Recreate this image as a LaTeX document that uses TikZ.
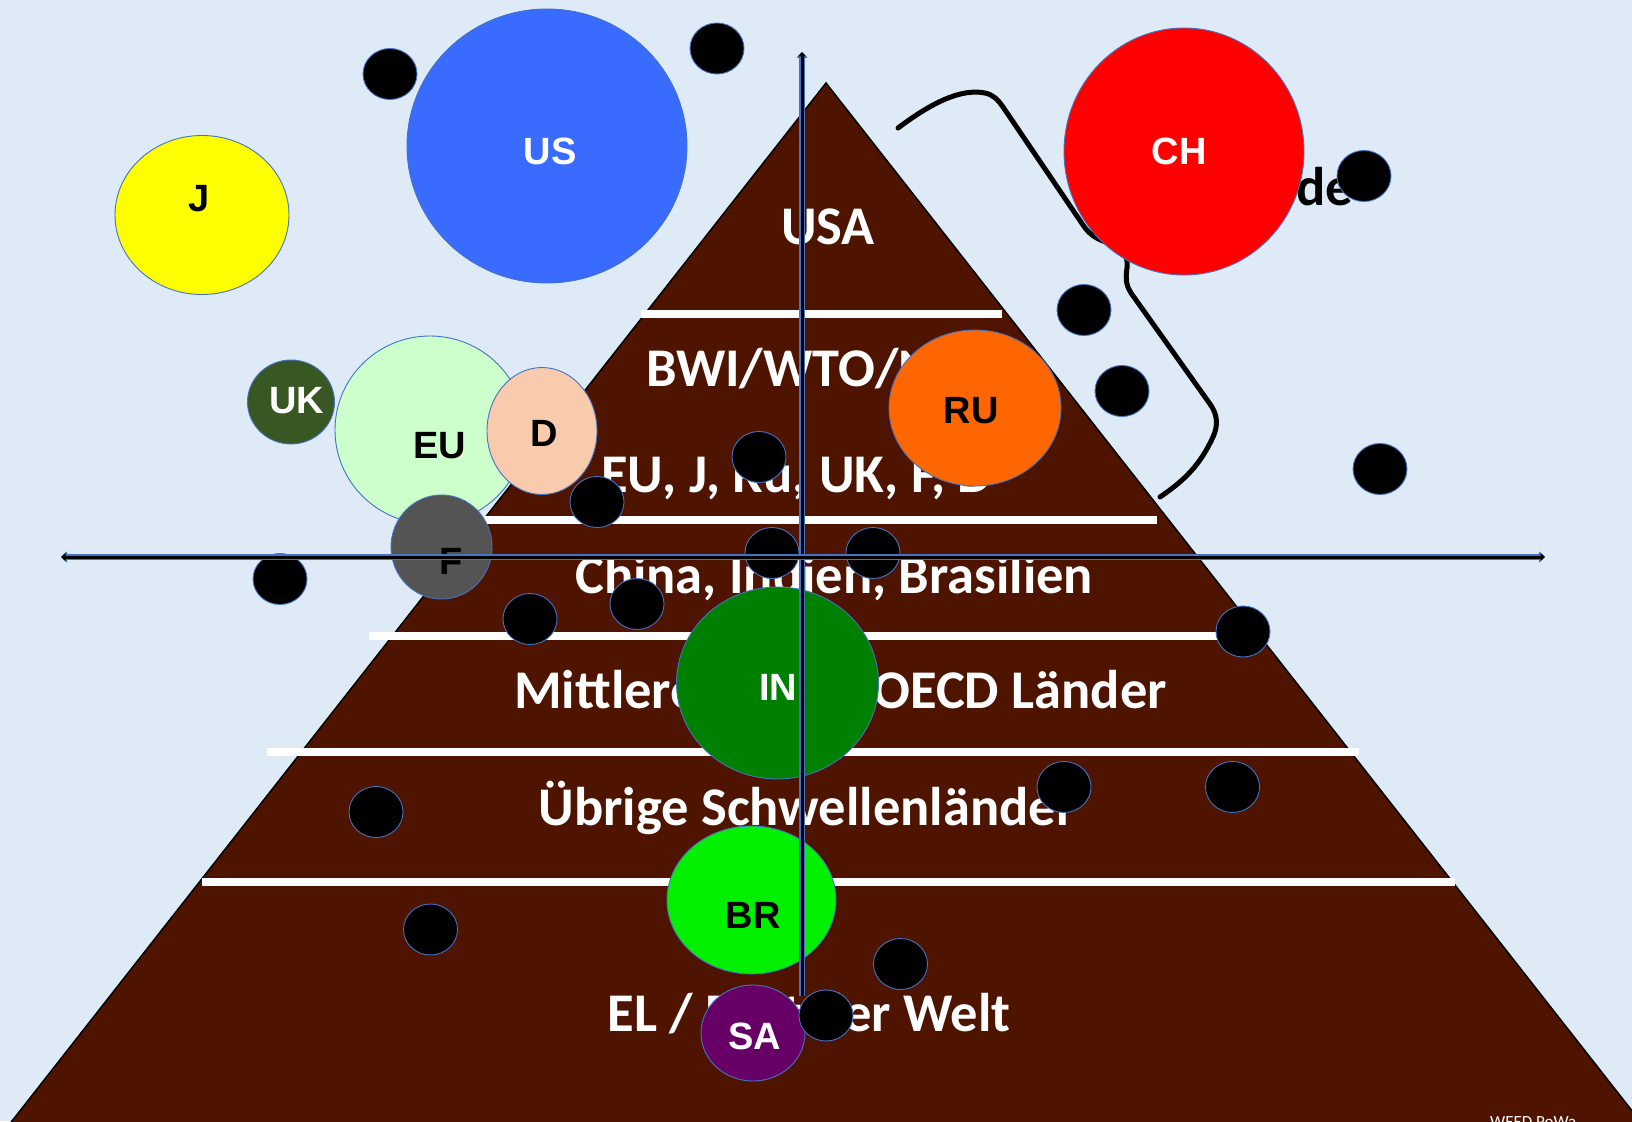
\documentclass[tikz,border=0pt]{standalone}
\usepackage{fontspec}
\setmainfont{Carlito}
\newfontfamily\arialf{Liberation Sans}
\usetikzlibrary{shapes.geometric,arrows.meta}
\definecolor{bgc}{RGB}{222,235,247}
\definecolor{pbrown}{RGB}{78,20,0}
\definecolor{olblue}{RGB}{68,114,196}
\definecolor{cUS}{RGB}{58,107,255}
\definecolor{cJ}{RGB}{255,255,0}
\definecolor{cUK}{RGB}{56,87,35}
\definecolor{cEU}{RGB}{204,255,204}
\definecolor{cD}{RGB}{248,203,173}
\definecolor{cF}{RGB}{84,84,84}
\definecolor{cRU}{RGB}{255,102,0}
\definecolor{cCH}{RGB}{255,0,0}
\definecolor{cIN}{RGB}{0,128,0}
\definecolor{cBR}{RGB}{0,240,0}
\definecolor{cSA}{RGB}{102,0,102}
\begin{document}
\begin{tikzpicture}[x=1pt,y=-1pt,
  country/.style={ellipse, draw=olblue, line width=0.9pt, inner sep=0pt},
  bdot/.style={ellipse, fill=black, draw=olblue, line width=0.9pt, inner sep=0pt, minimum width=54pt, minimum height=51pt},
  lab/.style={font=\arialf\bfseries\fontsize{38}{44}\selectfont, inner sep=0pt},
  ptext/.style={font=\bfseries\fontsize{54.5}{64}\selectfont, text=white, inner sep=0pt},
  wline/.style={draw=white, line width=8pt},
  axo/.style={draw=olblue, line width=5.5pt},
  axi/.style={draw=black, line width=3pt}]
\useasboundingbox (0,0) rectangle (1632,1121);
\fill[bgc] (0,0) rectangle (1632,1121);
% pyramid
\filldraw[fill=pbrown, draw=black, line width=1.5pt] (826,83) -- (1651,1135) -- (1,1135) -- cycle;
% white separators
\draw[wline] (641,314) -- (1002,314);
\draw[wline] (484,520) -- (1157,520);
\draw[wline] (369,636) -- (1230,636);
\draw[wline] (267,752) -- (1359,752);
\draw[wline] (202,882) -- (1455,882);
% pyramid texts
\node[ptext, anchor=base] (tUSA) at (828,244) {USA};
\node[ptext, anchor=base west] (tBWI) at (646,386) {BWI/WTO/NATO};
\node[ptext, anchor=base west] (tEUJ) at (601,492) {EU, J, Ru, UK, F, D};
\node[ptext, anchor=base] (tCIB) at (834,593) {China, Indien, Brasilien};
\node[ptext, anchor=base west] (tOECDa) at (514,708.5) {Mittlere};
\node[ptext, anchor=base east] (tOECDb) at (1167,708.5) {OECD Länder};
\node[ptext, anchor=base] (tSCH) at (807,825) {Übrige Schwellenländer};
\node[ptext, anchor=base] (tEL) at (809,1031) {EL / Rest der Welt};
\node[font=\bfseries\fontsize{54.5}{64}\selectfont, text=black, inner sep=0pt, anchor=base west] (tde) at (1296,205) {de};
% bracket
\draw[black, line width=5pt, line cap=round, line join=round]
  (898,128) .. controls (930,104) and (960,88) .. (985,93)
  .. controls (994,95) and (998,100) .. (1003,107)
  -- (1083,225)
  .. controls (1090,236) and (1100,241) .. (1115,245)
  .. controls (1125,250) and (1128,258) .. (1127,268)
  .. controls (1125,280) and (1127,287) .. (1131,293)
  -- (1210,404)
  .. controls (1218,415) and (1218,426) .. (1213,437)
  .. controls (1200,465) and (1185,480) .. (1160,497);
% countries
\node[country, fill=cJ, minimum width=174pt, minimum height=159pt] (J) at (202,215) {};
\node[lab, text=black] (Jl) at (199,199) {J};
\node[country, fill=cUS, minimum width=280pt, minimum height=274pt] (US) at (547,146) {};
\node[lab, text=white] (USl) at (550,151) {US};
\node[country, fill=cUK, minimum width=87pt, minimum height=84pt] (UK) at (291,402) {};
\node[lab, text=white] (UKl) at (296.5,401) {UK};
\node[country, fill=cEU, minimum width=190pt, minimum height=188pt] (EU) at (430,430) {};
\node[lab, text=black] (EUl) at (440,446) {EU};
\node[country, fill=cD, minimum width=110pt, minimum height=127pt] (D) at (542,431) {};
\node[lab, text=black] (Dl) at (544.5,433) {D};
\node[country, fill=cF, minimum width=101pt, minimum height=104pt] (F) at (441.5,547) {};
\node[lab, text=black] (Fl) at (451,561) {F};
\node[country, fill=cRU, minimum width=172pt, minimum height=156pt] (RU) at (975,408) {};
\node[lab, text=black] (RUl) at (971,410.7) {RU};
\node[country, fill=cCH, minimum width=240pt, minimum height=247pt] (CH) at (1184,151.5) {};
\node[lab, text=white] (CHl) at (1179,151) {CH};
\node[country, fill=cIN, minimum width=202pt, minimum height=192pt] (IN) at (777.5,683) {};
\node[lab, text=white] (INl) at (778,687) {IN};
\node[country, fill=cBR, minimum width=169pt, minimum height=148pt] (BR) at (751.5,900) {};
\node[lab, text=black] (BRl) at (753,915) {BR};
\node[country, fill=cSA, minimum width=104pt, minimum height=96pt] (SA) at (753,1033) {};
\node[lab, text=white] (SAl) at (755,1036) {SA};
% black dots
\node[bdot] (d1) at (390,74) {};
\node[bdot] (d2) at (717,48.5) {};
\node[bdot] (d3) at (1364,176) {};
\node[bdot] (d4) at (1084,310) {};
\node[bdot] (d5) at (1122,391) {};
\node[bdot] (d6) at (1380,469) {};
\node[bdot] (d7) at (759,457) {};
\node[bdot] (d8) at (597,502) {};
\node[bdot] (d9) at (772,553) {};
\node[bdot] (d10) at (873,553) {};
\node[bdot] (d11) at (280,579) {};
\node[bdot] (d12) at (530,619) {};
\node[bdot] (d13) at (637,604) {};
\node[bdot] (d14) at (1243,631.5) {};
\node[bdot] (d15) at (376,812) {};
\node[bdot] (d16) at (1064,787) {};
\node[bdot] (d17) at (1232.5,787) {};
\node[bdot] (d18) at (430.5,929.5) {};
\node[bdot] (d19) at (900.5,964) {};
\node[bdot] (d20) at (826,1015.5) {};
% axes
\coordinate (ytop) at (802,52);
\coordinate (ybot) at (802,996);
\coordinate (xl) at (61,557);
\coordinate (xr) at (1545,557);
\draw[axo, -{Triangle[length=6pt,width=11pt]}] (ybot) -- (ytop);
\draw[axi, -{Triangle[length=4.5pt,width=8pt]}] (ybot) -- (ytop);
\draw[axo, {Triangle[length=6pt,width=11pt]}-{Triangle[length=6pt,width=11pt]}] (xl) -- (xr);
\draw[axi, {Triangle[length=4.5pt,width=8pt]}-{Triangle[length=4.5pt,width=8pt]}] (xl) -- (xr);
% footer
\node[font=\fontsize{17}{20}\selectfont, text=white, inner sep=0pt, anchor=north west] (weed) at (1490,1116) {WEED PoWa};
\end{tikzpicture}
\end{document}
